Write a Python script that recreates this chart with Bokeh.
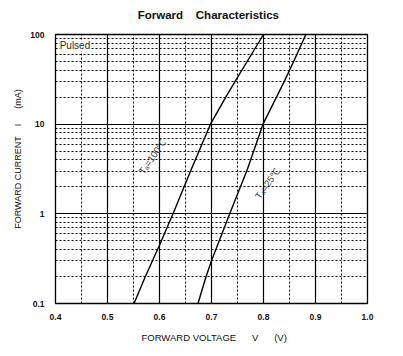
from bokeh.plotting import figure
from bokeh.models import FixedTicker, Label, Range1d, LinearAxis
from bokeh.embed import file_html
from bokeh.resources import INLINE

# ---- data ----
v_100 = [0.551, 0.572, 0.601, 0.626, 0.660, 0.698, 0.7275, 0.7454, 0.800]
i_100 = [0.1, 0.195, 0.46, 1.0, 3.03, 10, 20, 30, 100]

v_25 = [0.674, 0.689, 0.700, 0.735, 0.768, 0.799, 0.825, 0.840, 0.858, 0.8815]
i_25 = [0.1, 0.195, 0.30, 1.0, 3.03, 10, 20, 30, 50, 100]

x_ticks = [0.4, 0.5, 0.6, 0.7, 0.8, 0.9, 1.0]
x_tick_labels = ["0.4", "0.5", "0.6", "0.7", "0.8", "0.9", "1.0"]
x_grid_major = [0.5, 0.6, 0.7, 0.8, 0.9]
x_grid_minor = [0.45, 0.55, 0.65, 0.75, 0.85, 0.95]

y_ticks = [0.1, 1, 10, 100]
y_tick_labels = ["0.1", "1", "10", "100"]
y_grid_major = [1, 10]
y_grid_minor = [0.2, 0.3, 0.4, 0.5, 0.6, 0.7, 0.8, 0.9,
                2, 3, 4, 5, 6, 7, 8, 9,
                20, 30, 40, 50, 60, 70, 80, 90]

FONT = "Liberation Sans"
NB = "\u00a0"

p = figure(width=403, height=356, y_axis_type="log",
           x_range=Range1d(0.4, 1.0), y_range=Range1d(0.1, 100),
           output_backend="svg", toolbar_location=None,
           min_border_left=55, min_border_right=36,
           min_border_top=34, min_border_bottom=53)

p.outline_line_color = "black"
p.outline_line_width = 1.3
p.background_fill_color = "white"
p.border_fill_color = "white"

bottom_axis = p.below[0]
left_axis = p.left[0]

# grids
p.xgrid.ticker = FixedTicker(ticks=x_grid_major, minor_ticks=x_grid_minor)
p.xgrid.grid_line_color = "black"
p.xgrid.grid_line_width = 1.2
p.xgrid.minor_grid_line_color = "black"
p.xgrid.minor_grid_line_dash = "2 2"
p.xgrid.minor_grid_line_width = 1.0

p.ygrid.ticker = FixedTicker(ticks=y_grid_major, minor_ticks=y_grid_minor)
p.ygrid.grid_line_color = "black"
p.ygrid.grid_line_width = 1.2
p.ygrid.minor_grid_line_color = "black"
p.ygrid.minor_grid_line_dash = "2 2"
p.ygrid.minor_grid_line_width = 1.0

# axes
bottom_axis.ticker = FixedTicker(ticks=x_ticks)
bottom_axis.major_label_overrides = {t: s for t, s in zip(x_ticks, x_tick_labels)}
left_axis.ticker = FixedTicker(ticks=y_ticks)
left_axis.major_label_overrides = {t: s for t, s in zip(y_ticks, y_tick_labels)}
for ax in (bottom_axis, left_axis):
    ax.axis_line_color = None
    ax.major_tick_line_color = None
    ax.minor_tick_line_color = None
    ax.major_label_text_font = FONT
    ax.major_label_text_font_size = "8.5px"
    ax.major_label_text_font_style = "bold"
    ax.major_label_text_color = "#111111"
    ax.axis_label_text_font = FONT
    ax.axis_label_text_font_style = "normal"
    ax.axis_label_text_color = "#111111"
bottom_axis.major_label_standoff = 4
left_axis.major_label_standoff = 5

bottom_axis.axis_label = NB * 2 + "FORWARD VOLTAGE" + NB * 6 + "V" + NB * 6 + "(V)"
bottom_axis.axis_label_text_font_size = "9.5px"
bottom_axis.axis_label_standoff = 9

left_axis.axis_label = NB * 8 + "FORWARD CURRENT" + NB * 4 + "I" + NB * 6 + "(mA)"
left_axis.axis_label_text_font_size = "9px"
left_axis.axis_label_standoff = 4

# title, drawn as the label of a tick-less axis above the frame
top_axis = LinearAxis(ticker=FixedTicker(ticks=[]),
                      axis_label="Forward" + NB * 4 + "Characteristics" + NB * 2,
                      axis_label_text_font=FONT, axis_label_text_font_size="11.5px",
                      axis_label_text_font_style="bold", axis_label_text_color="#111111",
                      axis_label_standoff=14, axis_line_color=None,
                      major_tick_line_color=None, minor_tick_line_color=None,
                      major_tick_out=0, minor_tick_out=0, major_label_standoff=0)
p.add_layout(top_axis, "above")

# curves
p.line(v_100, i_100, line_color="black", line_width=1.4)
p.line(v_25, i_25, line_color="black", line_width=1.4)

# in-plot texts
p.add_layout(Label(x=0.408, y=75, text="Pulsed", text_font=FONT, text_font_size="10px",
                   text_color="#2a2a2a", text_baseline="middle", text_align="left",
                   background_fill_color="white"))
p.add_layout(Label(x=0.586, y=4.33, text="T\u2090=100\u2103", text_font=FONT,
                   text_font_size="9.5px", text_color="#3a3a3a", angle=0.95,
                   text_align="center", text_baseline="middle"))
p.add_layout(Label(x=0.8073, y=2.17, text="T\u2090=25\u2103", text_font=FONT,
                   text_font_size="9.5px", text_color="#3a3a3a", angle=0.95,
                   text_align="center", text_baseline="middle"))

open("out.html", "w").write(file_html(p, INLINE))
